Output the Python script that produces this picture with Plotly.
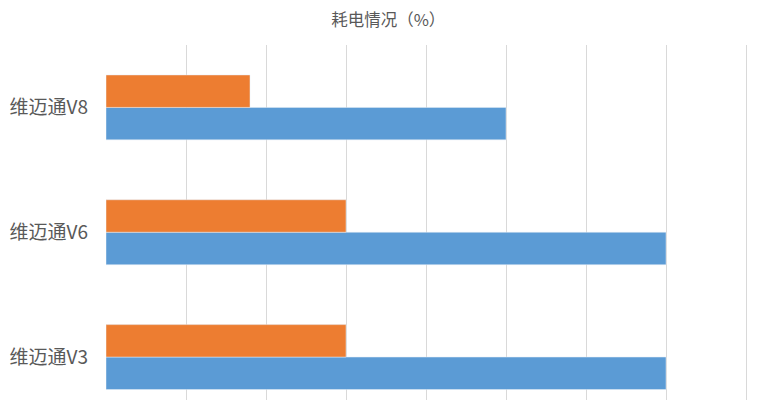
import plotly.graph_objects as go

# 类别（自下而上）与两组数据
categories = ["维迈通V3", "维迈通V6", "维迈通V8"]
blue_values = [14, 14, 10]
orange_values = [6, 6, 3.6]

trace_blue = go.Bar(
    y=categories,
    x=blue_values,
    orientation="h",
    marker=dict(color="#5B9BD5"),
    name="系列1",
)

trace_orange = go.Bar(
    y=categories,
    x=orange_values,
    orientation="h",
    marker=dict(color="#ED7D31"),
    name="系列2",
)

# 页面 body 自带 8px 边距，这里的边距已经扣掉了它
layout = go.Layout(
    title=dict(
        text="耗电情况（%）",
        x=0.49,
        xref="container",
        xanchor="center",
        y=1 - 12 / 400,
        yref="container",
        yanchor="middle",
        font=dict(size=16.5, color="#595959", family="Noto Sans CJK SC"),
    ),
    barmode="group",
    bargap=0.48,
    bargroupgap=0,
    showlegend=False,
    width=776,
    height=400,
    margin=dict(l=98, r=26, t=37, b=8, autoexpand=False),
    paper_bgcolor="white",
    plot_bgcolor="white",
    font=dict(family="Noto Sans CJK SC", color="#595959"),
    xaxis=dict(
        range=[0, 16.3],
        dtick=2,
        showgrid=True,
        gridcolor="#D9D9D9",
        gridwidth=1,
        zeroline=False,
        showticklabels=False,
        showline=False,
    ),
    yaxis=dict(
        range=[-0.344, 2.5],
        showgrid=False,
        zeroline=False,
        showline=False,
        automargin=False,
        tickfont=dict(size=19, color="#595959"),
        ticklabelstandoff=17,
    ),
)

fig = go.Figure(data=[trace_blue, trace_orange], layout=layout)
fig.write_html("out.html")
